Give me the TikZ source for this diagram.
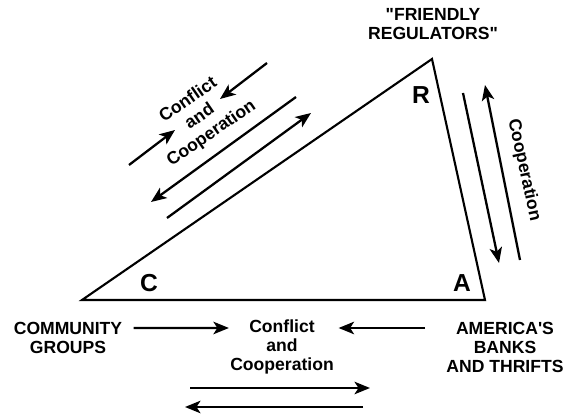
\documentclass[tikz,border=0pt]{standalone}
\usepackage{fontspec}
\setmainfont{Liberation Sans}
\usepackage{tikz}
\usetikzlibrary{arrows.meta,calc,positioning}
\tikzset{lbl/.style={align=center,font=\bfseries\fontsize{10}{10.8}\selectfont,inner sep=2pt},
  slant/.style={lbl,font=\bfseries\fontsize{10}{11.6}\selectfont},
  corner/.style={font=\bfseries\fontsize{14}{14}\selectfont,inner sep=0pt},
  arr/.style={-{Stealth[length=3.1mm,width=2.5mm,inset=0.8mm]},line width=1.3pt}}

\begin{document}
\begin{tikzpicture}[>=Stealth]
\useasboundingbox (0,0) rectangle (11.42,8.28);
% the triangle
\coordinate (C) at (1.64,2.28);
\coordinate (A) at (9.70,2.28);
\coordinate (R) at (8.64,7.10);
\draw[line width=1.2pt,line join=miter] (C) -- (A) -- (R) -- cycle;
\node[corner] (cl) at (2.98,2.62) {C};
\node[corner] (al) at (9.24,2.62) {A};
\node[corner] (rl) at (8.42,6.38) {R};
\node[lbl] (reg) at (8.66,7.80) {\textquotedbl FRIENDLY\\REGULATORS\textquotedbl};
% C -- R side
\draw[arr] (2.58,4.98) -- (3.50,5.68);
\draw[arr] (5.34,7.02) -- (4.40,6.30);
\node[slant,rotate=34.6] (cr) at (4.00,5.94) {Conflict\\and\\Cooperation};
\draw[arr] (5.92,6.34) -- (3.02,4.24);
\draw[arr] (3.34,3.92) -- (6.22,6.02);
% R -- A side
\draw[arr] (9.26,6.42) -- (9.98,3.02);
\draw[arr] (10.40,3.08) -- (9.70,6.58);
\node[slant,rotate=-77.6] (ra) at (10.48,4.88) {Cooperation};
% C -- A side
\node[lbl] (comm) at (1.36,1.53) {COMMUNITY\\GROUPS};
\node[lbl] (mid) at (5.64,1.34) {Conflict\\and\\Cooperation};
\node[lbl] (amer) at (10.10,1.34) {AMERICA\textquotesingle S\\BANKS\\AND THRIFTS};
\draw[arr] ([xshift=0.15cm,yshift=0.19cm]comm.east) -- ([xshift=0.05cm,yshift=0.38cm]mid.west);
\draw[arr] ([xshift=-0.35cm,yshift=0.38cm]amer.west) -- ([xshift=0.02cm,yshift=0.38cm]mid.east);
\draw[arr] (3.80,0.52) -- (7.40,0.52);
\draw[arr] (7.26,0.14) -- (3.70,0.14);
\end{tikzpicture}
\end{document}
